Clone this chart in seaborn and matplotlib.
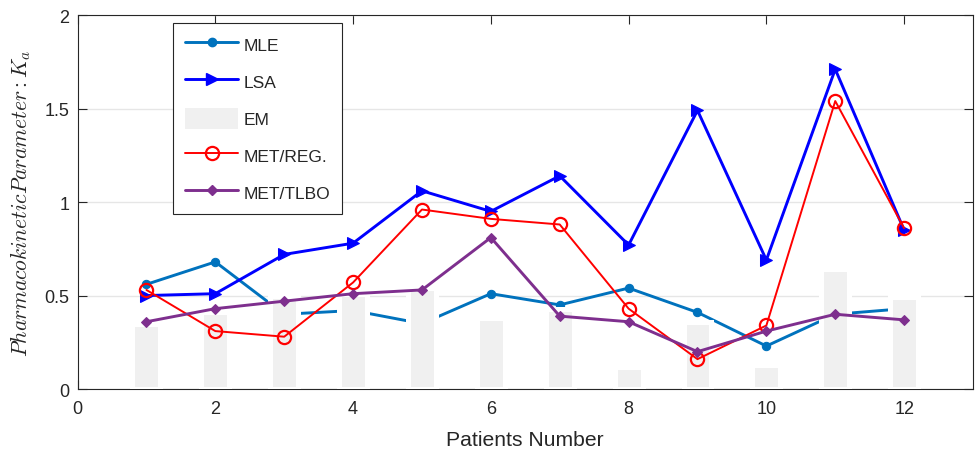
import matplotlib
matplotlib.use("Agg")
import matplotlib.pyplot as plt
import seaborn as sns
from matplotlib.patches import Patch

patients = [1, 2, 3, 4, 5, 6, 7, 8, 9, 10, 11, 12]
mle = [0.56, 0.68, 0.40, 0.42, 0.35, 0.51, 0.45, 0.54, 0.41, 0.23, 0.40, 0.43]
lsa = [0.50, 0.51, 0.72, 0.78, 1.06, 0.95, 1.14, 0.77, 1.49, 0.69, 1.71, 0.85]
em = [0.35, 0.41, 0.50, 0.51, 0.54, 0.38, 0.43, 0.12, 0.36, 0.13, 0.64, 0.49]
met_reg = [0.53, 0.31, 0.28, 0.57, 0.96, 0.91, 0.88, 0.43, 0.16, 0.34, 1.54, 0.86]
met_tlbo = [0.36, 0.43, 0.47, 0.51, 0.53, 0.81, 0.39, 0.36, 0.20, 0.31, 0.40, 0.37]

sns.set_style("ticks")
plt.rcParams["font.family"] = ["Liberation Sans", "DejaVu Sans"]
plt.rcParams["mathtext.fontset"] = "cm"

dark = "#262626"
fig, ax = plt.subplots(figsize=(9.78, 4.52), dpi=100)
fig.subplots_adjust(left=0.0793, right=0.9949, bottom=0.137, top=0.9646)

ax.set_axisbelow(True)
ax.yaxis.grid(True, color="#e6e6e6", linewidth=1.0, zorder=0)

# MLE sits underneath the EM bars, the rest on top
sns.lineplot(x=patients, y=mle, color="#0072BD", marker="o", markersize=6,
             markeredgecolor="#0072BD", linewidth=2.1, zorder=2, ax=ax)
sns.barplot(x=patients, y=em, native_scale=True, width=0.406, color="#F0F0F0",
            saturation=1, edgecolor="white", linewidth=3.6, zorder=3, ax=ax)
sns.lineplot(x=patients, y=lsa, color="#0000FF", marker=">", markersize=8,
             markeredgecolor="#0000FF", linewidth=2.1, zorder=4, ax=ax)
sns.lineplot(x=patients, y=met_reg, color="#FF0000", marker="o", markersize=9.5,
             markerfacecolor="none", markeredgecolor="#FF0000", markeredgewidth=1.6,
             linewidth=1.4, zorder=5, ax=ax)
sns.lineplot(x=patients, y=met_tlbo, color="#7E2F8E", marker="D", markersize=5.5,
             markeredgecolor="#7E2F8E", linewidth=2.1, zorder=6, ax=ax)

ax.set_xlim(0, 13)
ax.set_ylim(0, 2)
ax.set_xticks([0, 2, 4, 6, 8, 10, 12])
ax.set_xticklabels(["0", "2", "4", "6", "8", "10", "12"])
ax.set_yticks([0, 0.5, 1, 1.5, 2])
ax.set_yticklabels(["0", "0.5", "1", "1.5", "2"])
ax.tick_params(direction="in", length=6.5, width=0.8, colors=dark,
               labelsize=13, top=True, right=True)
ax.tick_params(axis="x", pad=8)
ax.tick_params(axis="y", pad=6)
for s in ax.spines.values():
    s.set_visible(True)
    s.set_color(dark)
    s.set_linewidth(0.8)

ax.set_xlabel("Patients Number", fontsize=15.2, color=dark, labelpad=9)
ax.set_ylabel(r"$Pharmacokinetic Parameter : K_a$", fontsize=15.5, color=dark, labelpad=8)

handles = [
    plt.Line2D([], [], color="#0072BD", marker="o", markersize=6, linewidth=2.1),
    plt.Line2D([], [], color="#0000FF", marker=">", markersize=8, linewidth=2.1),
    Patch(facecolor="#F0F0F0", edgecolor="none"),
    plt.Line2D([], [], color="#FF0000", marker="o", markersize=9.5, markerfacecolor="none",
               markeredgewidth=1.6, linewidth=1.4),
    plt.Line2D([], [], color="#7E2F8E", marker="D", markersize=5.5, linewidth=2.1),
]
labels = ["MLE", "LSA", "EM", "MET/REG.", "MET/TLBO"]
leg = ax.legend(handles, labels, loc="upper left", bbox_to_anchor=(0.107, 0.979),
                borderaxespad=0, fontsize=12.5, frameon=True, fancybox=False,
                framealpha=1, edgecolor=dark, handlelength=3.1, handleheight=1.5,
                handletextpad=0.3, labelspacing=0.9, borderpad=0.65)
leg.get_frame().set_linewidth(0.8)
leg.set_zorder(10)

fig.savefig("out.png", dpi=100)
